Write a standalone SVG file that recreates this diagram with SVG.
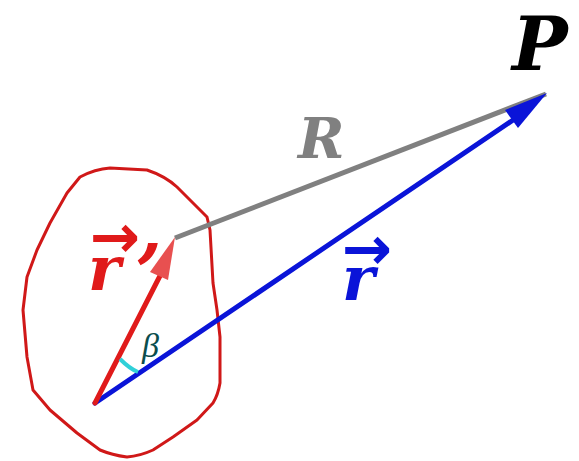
<svg xmlns="http://www.w3.org/2000/svg" width="579" height="461" viewBox="0 0 579 461">
<style>
.lbl{font-family:"DejaVu Serif","Liberation Serif",serif;font-weight:bold;font-style:italic}
.arr{font-family:"DejaVu Sans",sans-serif;font-weight:bold}
</style>
<rect width="579" height="461" fill="#fff"/>
<g id="region">
<path d="M80,177 Q95,169 110,168 L147,170 Q165,176 177,187 L207,217 L210,230 L213,283 L217,310 L220,337 L220,383 Q218,395 213,403 L197,420 L173,437 L153,450 Q140,456 127,457 Q112,455 100,450 L77,433 L50,410 L33,390 L27,357 L23,310 L27,277 L37,250 L50,223 L67,193 Z" fill="none" stroke="#d01818" stroke-width="3" stroke-linejoin="round"/>
</g>
<g id="connectors">
<line id="R" x1="175" y1="238" x2="546" y2="94" stroke="#808080" stroke-width="5"/>
<line x1="95" y1="403" x2="516" y2="118" stroke="#0a14d8" stroke-width="5" stroke-linecap="round"/>
<polygon points="547,93 505,110 518,128" fill="#0a14d8"/>
<line x1="95" y1="403" x2="164" y2="268" stroke="#e01a1a" stroke-width="5" stroke-linecap="round"/>
<polygon points="175,237 150,272 168,280" fill="#e85050"/>
<path d="M120,359 Q130,369 138,372" fill="none" stroke="#30d0d8" stroke-width="4"/>
</g>
<g id="labels">
<text class="lbl" x="512" y="70" font-size="74" fill="#000">P</text>
<text class="lbl" x="298" y="158" font-size="56" fill="#808080">R</text>
<text class="arr" x="90" y="257" font-size="60" fill="#e01a1a">→</text>
<text class="lbl" x="88" y="290" font-size="62" fill="#e01a1a">r</text>
<text class="lbl" x="138" y="254" font-size="70" fill="#e01a1a">,</text>
<text class="arr" x="342" y="269" font-size="60" fill="#0a14d8">→</text>
<text class="lbl" x="342" y="300" font-size="62" fill="#0a14d8">r</text>
<text x="142" y="357" font-family="Liberation Serif,serif" font-style="italic" font-size="34" fill="#0b4d4d">β</text>
</g>
</svg>
